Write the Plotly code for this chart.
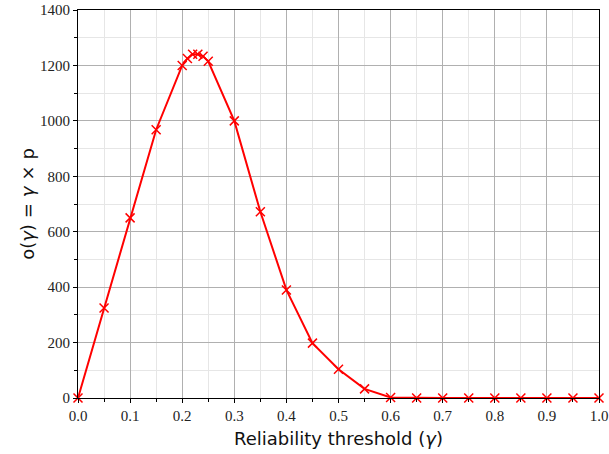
import plotly.graph_objects as go

gamma = [0.0, 0.05, 0.1, 0.15, 0.2, 0.21, 0.22, 0.23, 0.24, 0.25, 0.3, 0.35, 0.4, 0.45,
         0.5, 0.55, 0.6, 0.65, 0.7, 0.75, 0.8, 0.85, 0.9, 0.95, 1.0]
objective = [0, 325, 650, 968, 1200, 1225, 1240, 1240, 1233, 1215, 1000, 672, 390, 198,
             104, 33, 2, 0, 0, 0, 0, 0, 0, 0, 0]

x_ticks = [0.0, 0.1, 0.2, 0.3, 0.4, 0.5, 0.6, 0.7, 0.8, 0.9, 1.0]
y_ticks = [0, 200, 400, 600, 800, 1000, 1200, 1400]

fig = go.Figure()
fig.add_trace(go.Scatter(
    x=gamma, y=objective, mode="lines+markers",
    line=dict(color="#ff0000", width=2),
    marker=dict(symbol="x-thin", size=9, line=dict(color="#ff0000", width=1.5)),
    showlegend=False, cliponaxis=False,
))

axis_common = dict(
    showline=True, linecolor="black", linewidth=1, mirror=True,
    ticks="outside", ticklen=4, tickcolor="black", tickwidth=1,
    showgrid=True, gridcolor="#b0b0b0", gridwidth=1,
    zeroline=False, automargin=False, ticklabeloverflow="allow",
    tickfont=dict(family="Liberation Serif, DejaVu Serif, serif", size=15, color="#222"),
)

sp = "\u2004"
fig.update_xaxes(
    range=[0, 1], tickvals=x_ticks, ticktext=[f"{v:.1f}" for v in x_ticks],
    minor=dict(dtick=0.05, tick0=0, showgrid=True, gridcolor="#e6e6e6", ticks="outside",
               ticklen=3, tickcolor="black"),
    title=dict(text="Reliability threshold (<i>γ</i>)", standoff=9,
               font=dict(family="DejaVu Sans, sans-serif", size=18, color="#111")),
    **axis_common,
)
fig.update_yaxes(
    range=[0, 1400], tickvals=y_ticks, ticktext=[str(v) for v in y_ticks],
    minor=dict(dtick=100, tick0=0, showgrid=True, gridcolor="#e6e6e6", ticks="outside",
               ticklen=3, tickcolor="black"),
    title=dict(text=f"o(<i>γ</i>){sp}={sp}<i>γ</i>{sp}×{sp}p", standoff=0,
               font=dict(family="DejaVu Sans, sans-serif", size=18, color="#111")),
    **axis_common,
)

fig.update_layout(
    width=609, height=454,
    margin=dict(l=78, r=10, t=10, b=56),
    paper_bgcolor="white", plot_bgcolor="white",
)

# remove the browser's default 8px body margin so the figure fills the window exactly
fig.write_html("out.html", config={"displayModeBar": False},
               post_script="document.body.style.margin='0';")
